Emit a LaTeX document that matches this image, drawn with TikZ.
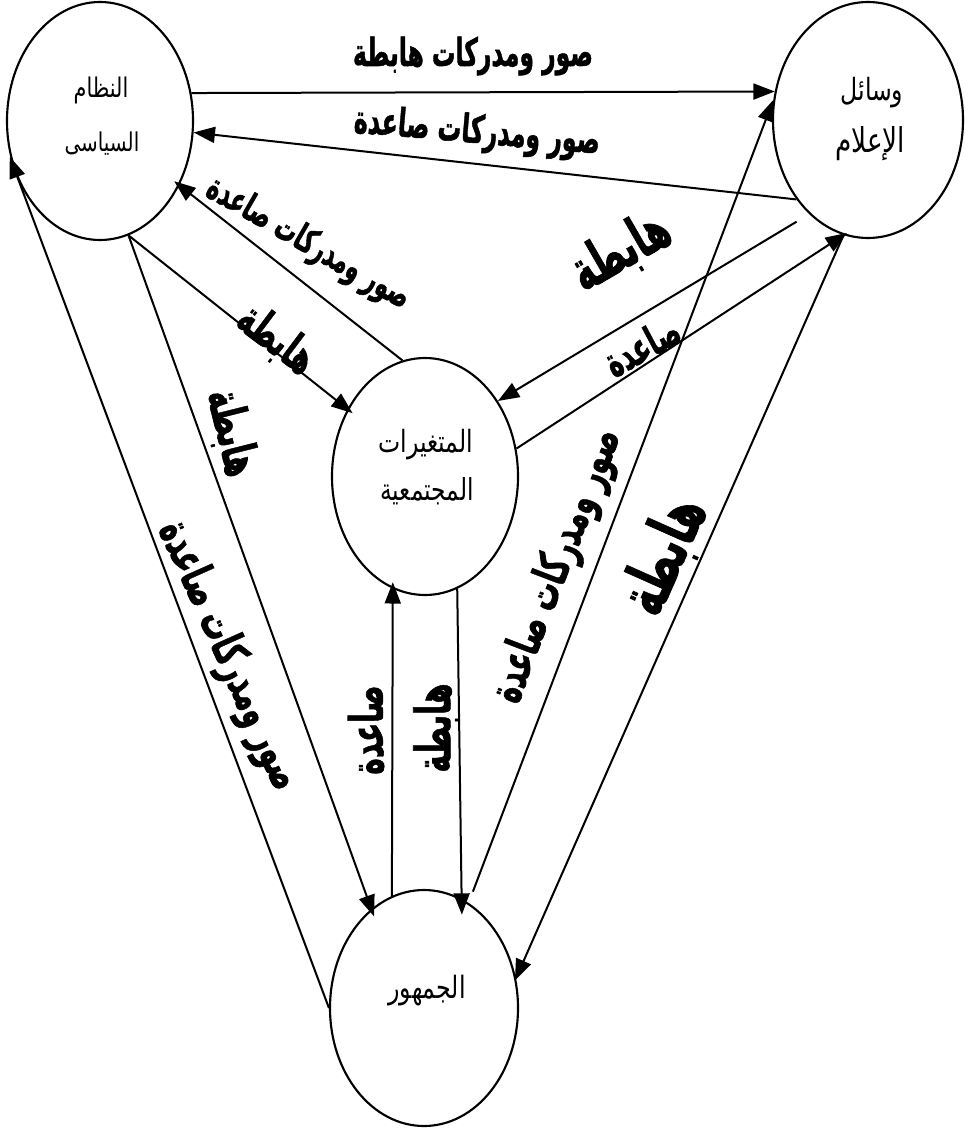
\documentclass[tikz,border=0pt]{standalone}
\usepackage{fontspec}
\usepackage{graphicx}
\usetikzlibrary{shapes.geometric,arrows.meta}
\TeXXeTstate=1
\newfontfamily\arabicfont[Script=Arabic]{DejaVu Sans}
\newfontfamily\arabicbold[Script=Arabic,FakeBold=1.5]{DejaVu Sans Bold}
\newcommand\lab[2]{\resizebox{#1}{!}{\scalebox{1}[1.65]{\arabicbold #2}}}
\newcommand\etx[2]{\resizebox{#1}{!}{\scalebox{1}[1.3]{\arabicfont #2}}}
\begin{document}
\begin{tikzpicture}[x=0.75pt,y=-0.75pt,
  ell/.style={draw, ellipse, line width=1.6pt, inner sep=0pt},
  arr/.style={line width=1.5pt, -{Triangle[length=16pt,width=12pt]}},
  lbl/.style={inner sep=0pt},
  etxt/.style={inner sep=0pt, anchor=base}]
\useasboundingbox (0,0) rectangle (964,1128);
% ellipses
\node[ell, minimum width=139.5pt, minimum height=178.5pt] (E1) at (100,121) {};
\node[ell, minimum width=142.5pt, minimum height=177pt] (E2) at (868,120) {};
\node[ell, minimum width=139.5pt, minimum height=177.75pt] (E3) at (425,476.5) {};
\node[ell, minimum width=141pt, minimum height=177pt] (E4) at (424,1008) {};
% ellipse texts
\node[etxt] (e1a) at (101,97) {\etx{41pt}{\beginR النظام\endR}};
\node[etxt] (e1b) at (102,151) {\etx{56pt}{\beginR السياسى\endR}};
\node[etxt] (e2a) at (872,100) {\etx{47pt}{\beginR وسائل\endR}};
\node[etxt] (e2b) at (870,152) {\etx{52.5pt}{\beginR الإعلام\endR}};
\node[etxt] (e3a) at (426,452) {\etx{71pt}{\beginR المتغيرات\endR}};
\node[etxt] (e3b) at (427,500) {\etx{70pt}{\beginR المجتمعية\endR}};
\node[etxt] (e4a) at (427,998) {\etx{58pt}{\beginR الجمهور\endR}};
% connectors
\draw[arr] (E1.17) -- (E2.163);
\draw[arr] (E2.228) -- (E1.-7);
\draw[arr, shorten >=-5pt] (E3.101) -- (E1.-39);
\draw[arr, shorten >=-5pt] (E1.-76) -- (E3.139);
\draw[arr, shorten >=-6pt] (E1.-76) -- (E4.118);
\draw[arr, shorten >=-3pt] (E4.180) -- (E1.204);
\draw[arr, shorten >=-5pt] (E4.106) -- (E3.-106);
\draw[arr, shorten >=-12pt] (E3.-74) -- (E4.71);
\draw[arr, shorten <=9pt] (E4.67) -- (E2.168);
\draw[arr, shorten >=-2pt] (E2.-102) -- (E4.18);
\draw[arr, shorten <=11pt] (E2.238) -- (E3.46);
\draw[arr, shorten >=-3pt] (E3.17) -- (E2.-102);
% labels
\node[lbl] (la) at (473,56) {\lab{180pt}{\beginR صور ومدركات هابطة\endR}};
\node[lbl, rotate=-5] (lb) at (477,133) {\lab{185pt}{\beginR صور ومدركات صاعدة\endR}};
\node[lbl, rotate=-30] (lc) at (308,244) {\lab{172pt}{\beginR صور ومدركات صاعدة\endR}};
\node[lbl, rotate=-66] (ld) at (228,656) {\lab{217pt}{\beginR صور ومدركات صاعدة\endR}};
\node[lbl, rotate=69] (le) at (558,566) {\lab{217pt}{\beginR صور ومدركات صاعدة\endR}};
\node[lbl, rotate=-37] (lf) at (276,340) {\lab{64pt}{\beginR هابطة\endR}};
\node[lbl, rotate=-76] (lg) at (231,433) {\lab{66pt}{\beginR هابطة\endR}};
\node[lbl, rotate=30] (lh) at (621,252) {\lab{79pt}{\beginR هابطة\endR}};
\node[lbl, rotate=28] (li) at (642,346) {\lab{60pt}{\beginR صاعدة\endR}};
\node[lbl, rotate=90] (lj) at (366,730) {\lab{67pt}{\beginR صاعدة\endR}};
\node[lbl, rotate=90] (lk) at (436,728) {\lab{67pt}{\beginR هابطة\endR}};
\node[lbl, rotate=66] (ll) at (665,556) {\lab{91pt}{\beginR هابطة\endR}};
\end{tikzpicture}
\end{document}
